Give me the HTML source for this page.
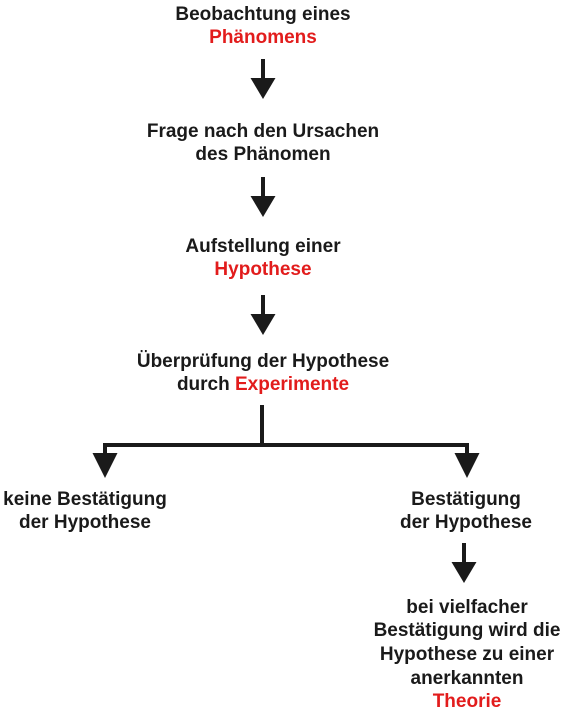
<!DOCTYPE html>
<html><head><meta charset="utf-8"><style>
html,body{margin:0;padding:0;background:#fff;}
svg{display:block;}
text{font-family:"Liberation Sans",sans-serif;font-size:19px;font-weight:bold;fill:#1a1a1a;text-anchor:middle;}
.r{fill:#e21c1c;}
</style></head><body>
<svg width="563" height="711" viewBox="0 0 563 711" xmlns="http://www.w3.org/2000/svg">
<defs>
<g id="a"><rect x="-2" y="0" width="4" height="20" fill="#1a1a1a"/><polygon points="-12.5,19 12.5,19 0,40" fill="#1a1a1a"/></g>
</defs>
<text x="263" y="20">Beobachtung eines</text>
<text x="263" y="43" class="r">Phänomens</text>
<use href="#a" x="263" y="59"/>
<text x="263" y="137">Frage nach den Ursachen</text>
<text x="263" y="160">des Phänomen</text>
<use href="#a" x="263" y="177"/>
<text x="263" y="252">Aufstellung einer</text>
<text x="263" y="275" class="r">Hypothese</text>
<use href="#a" x="263" y="295"/>
<text x="263" y="367">Überprüfung der Hypothese</text>
<text x="263" y="390"><tspan>durch </tspan><tspan class="r">Experimente</tspan></text>
<rect x="260" y="405" width="4" height="42" fill="#1a1a1a"/>
<rect x="103" y="443" width="366" height="4" fill="#1a1a1a"/>
<rect x="103" y="443" width="4" height="12" fill="#1a1a1a"/>
<rect x="465" y="443" width="4" height="12" fill="#1a1a1a"/>
<polygon points="92.5,453 117.5,453 105,478" fill="#1a1a1a"/>
<polygon points="454.5,453 479.5,453 467,478" fill="#1a1a1a"/>
<text x="85" y="505">keine Bestätigung</text>
<text x="85" y="528">der Hypothese</text>
<text x="466" y="505">Bestätigung</text>
<text x="466" y="528">der Hypothese</text>
<use href="#a" x="464" y="543"/>
<text x="467" y="613">bei vielfacher</text>
<text x="467" y="636">Bestätigung wird die</text>
<text x="467" y="660">Hypothese zu einer</text>
<text x="467" y="684">anerkannten</text>
<text x="467" y="707" class="r">Theorie</text>
</svg>
</body></html>
